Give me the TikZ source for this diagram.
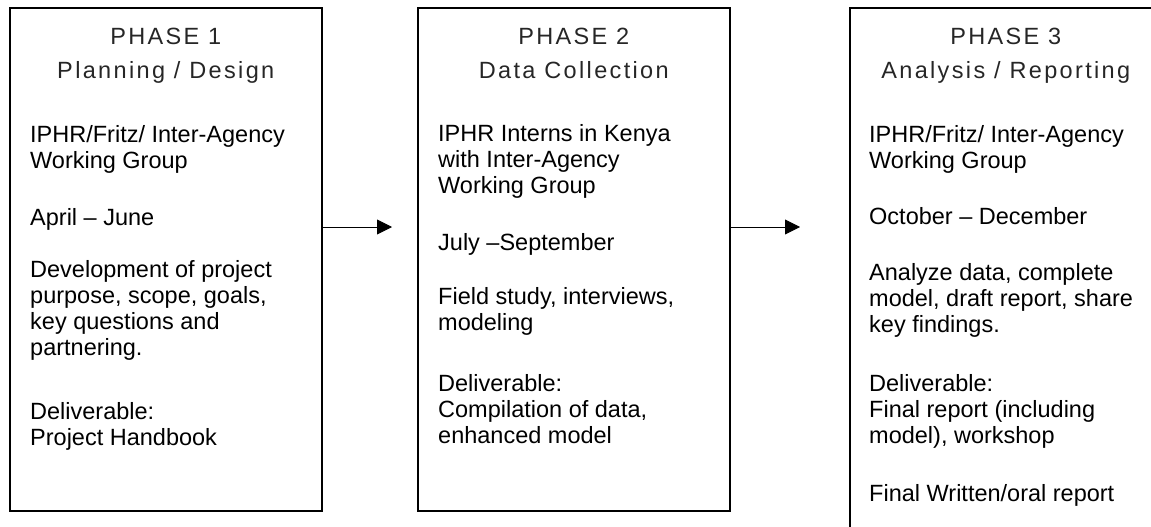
\documentclass[tikz,border=0pt]{standalone}
\usepackage{fontspec}
\setmainfont{Liberation Sans}
\newfontfamily\headfont[LetterSpace=10]{Liberation Sans}
\usetikzlibrary{arrows.meta,positioning}

\begin{document}
\begin{tikzpicture}[
    x=1pt, y=1pt,
    phase/.style={rectangle, draw, line width=1.6pt, minimum width=312pt, minimum height=503pt, inner sep=0pt, anchor=north west},
    heading/.style={font=\headfont\fontsize{23.5}{34}\selectfont, text=black!85, align=center, anchor=base, inner sep=0pt},
    body/.style={font=\fontsize{23.5}{26}\selectfont, align=left, anchor=base west, inner sep=0pt},
    flow/.style={line width=0.9pt, -{Triangle[length=15pt,width=15pt]}},
]
\clip (0,0) rectangle (1151,-527);

% The three phase boxes
\node[phase] (box1) at (9,-7) {};
\node[phase] (box2) at (417,-7) {};
\node[phase, minimum height=540pt] (box3) at (849,-7) {};

% Headings (anchored on the baseline of their last line)
\node[heading] (head1) at ([yshift=-71pt]box1.north) {PHASE 1\\Planning / Design};
\node[heading] (head2) at ([yshift=-71pt]box2.north) {PHASE 2\\Data Collection};
\node[heading] (head3) at ([yshift=-71pt]box3.north) {PHASE 3\\Analysis / Reporting};

% Phase 1
\node[body] (who1) at (30,-168) {IPHR/Fritz/ Inter-Agency\\Working Group};
\node[body] (when1) at (30,-225) {April -- June};
\node[body] (what1) at (30,-355) {Development of project\\purpose, scope, goals,\\key questions and\\partnering.};
\node[body] (del1) at (30,-445) {Deliverable:\\Project Handbook};

% Phase 2
\node[body] (who2) at (438,-193) {IPHR Interns in Kenya\\with Inter-Agency\\Working Group};
\node[body] (when2) at (438,-250) {July --September};
\node[body] (what2) at (438,-330) {Field study, interviews,\\modeling};
\node[body] (del2) at (438,-443) {Deliverable:\\Compilation of data,\\enhanced model};

% Phase 3
\node[body] (who3) at (869,-168) {IPHR/Fritz/ Inter-Agency\\Working Group};
\node[body] (when3) at (869,-224) {October -- December};
\node[body] (what3) at (869,-332) {Analyze data, complete\\model, draft report, share\\key findings.};
\node[body] (del3) at (869,-443) {Deliverable:\\Final report (including\\model), workshop};
\node[body] (final3) at (869,-501) {Final Written/oral report};

% Arrows between phases
\coordinate (tip1) at (392,-227);
\coordinate (tip2) at (800,-227);
\draw[flow] (box1.east |- tip1) -- (tip1);
\draw[flow] (box2.east |- tip2) -- (tip2);

\end{tikzpicture}
\end{document}
